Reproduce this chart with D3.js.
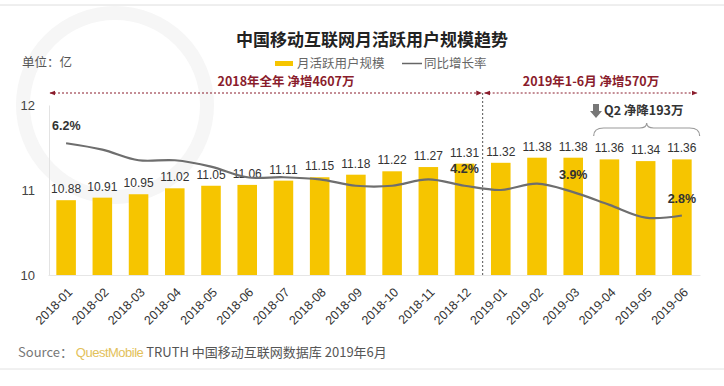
<!DOCTYPE html>
<html>
<head>
<meta charset="utf-8">
<script src="https://cdn.jsdelivr.net/npm/d3@7"></script>
<style>
  body { margin: 0; background: #fff; }
  svg { font-family: "Liberation Sans", Arial, "Noto Sans CJK SC", sans-serif; }
</style>
</head>
<body>
<div id="chart"></div>
<script>
// data
var months = ['2018-01','2018-02','2018-03','2018-04','2018-05','2018-06','2018-07','2018-08','2018-09',
  '2018-10','2018-11','2018-12','2019-01','2019-02','2019-03','2019-04','2019-05','2019-06'];
var mau = [10.88,10.91,10.95,11.02,11.05,11.06,11.11,11.15,11.18,11.22,11.27,11.31,11.32,11.38,11.38,11.36,11.34,11.36];
var growth = [6.2,5.9,5.4,5.4,5.1,4.6,4.6,4.5,4.2,4.2,4.5,4.2,4.0,4.3,3.9,3.3,2.7,2.8];
var growthLabels = [0, 11, 14, 17]; // indices of labelled growth points
var yTicks = [10, 11, 12];

var width = 724, height = 386;
var barColor = '#f6c500', lineColor = '#6e6e6e', red = '#8a1c2c';
var cjk = '"Noto Sans CJK SC", "Liberation Sans", sans-serif';

var svg = d3.select('#chart').append('svg')
  .attr('width', width)
  .attr('height', height);

// frame lines
svg.append('line').attr('x1', 0).attr('x2', width).attr('y1', 5).attr('y2', 5)
  .attr('stroke', '#dedede');
svg.append('line').attr('x1', 0).attr('x2', width).attr('y1', 369).attr('y2', 369)
  .attr('stroke', '#e2e2e2');

// faint logo ring behind the chart
svg.append('circle').attr('cx', 115).attr('cy', 105).attr('r', 92)
  .attr('fill', 'none').attr('stroke', '#f6f6f6').attr('stroke-width', 14);

var x = d3.scaleBand().domain(months).range([48, 700])
  .paddingInner(0.46).paddingOuter(0.23);
var y = d3.scaleLinear().domain([10, 12]).range([275, 105]);
var yRate = d3.scaleLinear().domain([0, 8]).range([275, 105]);
var cx = function(i) { return x(months[i]) + x.bandwidth() / 2; };

// title
svg.append('text').attr('x', 372).attr('y', 46).attr('text-anchor', 'middle')
  .style('font-family', cjk).style('font-size', '17px').style('font-weight', 600)
  .attr('fill', '#222').text('中国移动互联网月活跃用户规模趋势');

svg.append('text').attr('x', 22).attr('y', 67)
  .style('font-family', cjk).style('font-size', '12.5px').attr('fill', '#555')
  .text('单位：亿');

// legend
svg.append('rect').attr('x', 275).attr('y', 61).attr('width', 18).attr('height', 5)
  .attr('fill', barColor);
svg.append('text').attr('x', 297).attr('y', 67.5)
  .style('font-family', cjk).style('font-size', '12.5px').attr('fill', '#666')
  .text('月活跃用户规模');
svg.append('line').attr('x1', 402).attr('x2', 422).attr('y1', 63.5).attr('y2', 63.5)
  .attr('stroke', '#666').attr('stroke-width', 1.5);
svg.append('text').attr('x', 424).attr('y', 67.5)
  .style('font-family', cjk).style('font-size', '12.5px').attr('fill', '#666')
  .text('同比增长率');

// axes
var yAxis = svg.append('g').attr('transform', 'translate(49,0)')
  .call(d3.axisLeft(y).tickValues(yTicks).tickSize(0).tickPadding(14).tickFormat(d3.format('d')));
yAxis.select('.domain').attr('stroke', '#e3e3e3');
yAxis.selectAll('text').style('font-size', '13px').attr('fill', '#444');

var xAxis = svg.append('g').attr('transform', 'translate(0,275)')
  .call(d3.axisBottom(x).tickSize(0).tickPadding(0));
xAxis.select('.domain').attr('stroke', '#e6e6e6');
xAxis.selectAll('text')
  .style('font-size', '12.5px').attr('fill', '#333')
  .attr('text-anchor', 'end')
  .attr('dy', 0)
  .attr('transform', 'translate(7,18) rotate(-45)');

// bars
svg.append('g').selectAll('rect')
  .data(mau)
  .enter().append('rect')
    .attr('x', function(d, i) { return x(months[i]); })
    .attr('y', function(d) { return y(d); })
    .attr('width', x.bandwidth())
    .attr('height', function(d) { return y(10) - y(d); })
    .attr('fill', barColor);

svg.append('g').selectAll('text')
  .data(mau)
  .enter().append('text')
    .attr('x', function(d, i) { return cx(i); })
    .attr('y', function(d) { return y(d) - 7; })
    .attr('text-anchor', 'middle')
    .style('font-size', '12px').attr('fill', '#333')
    .text(function(d) { return d.toFixed(2); });

// divider between the two periods
var divX = (cx(11) + cx(12)) / 2;
svg.append('line').attr('x1', divX).attr('x2', divX).attr('y1', 93).attr('y2', 275)
  .attr('stroke', '#555').attr('stroke-dasharray', '2,2');

// growth line
var line = d3.line()
  .x(function(d, i) { return cx(i); })
  .y(function(d) { return yRate(d); })
  .curve(d3.curveCatmullRom.alpha(0.5));
svg.append('path').datum(growth)
  .attr('d', line)
  .attr('fill', 'none').attr('stroke', lineColor).attr('stroke-width', 2.2);

svg.append('g').selectAll('text')
  .data(growthLabels)
  .enter().append('text')
    .attr('x', function(i) { return i === 0 ? 52 : cx(i); })
    .attr('y', function(i) { return yRate(growth[i]) - 13; })
    .attr('text-anchor', function(i) { return i === 0 ? 'start' : 'middle'; })
    .style('font-size', '12.5px').style('font-weight', 'bold').attr('fill', '#333')
    .text(function(i) { return growth[i].toFixed(1) + '%'; });

// period arrows
var defs = svg.append('defs');
defs.append('marker').attr('id', 'arr').attr('viewBox', '0 0 10 10')
  .attr('refX', 9).attr('refY', 5).attr('markerWidth', 6).attr('markerHeight', 6)
  .attr('orient', 'auto-start-reverse')
  .append('path').attr('d', 'M0,1L10,5L0,9Z').attr('fill', red);

function periodArrow(x1, x2) {
  svg.append('line').attr('x1', x1).attr('x2', x2).attr('y1', 93).attr('y2', 93)
    .attr('stroke', red).attr('stroke-width', 1).attr('stroke-dasharray', '2,2')
    .attr('marker-start', 'url(#arr)').attr('marker-end', 'url(#arr)');
}
periodArrow(50, divX - 1);
periodArrow(divX + 2, 697);

svg.append('text').attr('x', 286).attr('y', 85.5).attr('text-anchor', 'middle')
  .style('font-family', cjk).style('font-size', '12.5px').style('font-weight', 'bold')
  .attr('fill', red).text('2018年全年 净增4607万');
svg.append('text').attr('x', 591).attr('y', 85.5).attr('text-anchor', 'middle')
  .style('font-family', cjk).style('font-size', '12.5px').style('font-weight', 'bold')
  .attr('fill', red).text('2019年1-6月 净增570万');

// Q2 note
var bx0 = x(months[15]) - 6, bx1 = x(months[17]) + x.bandwidth() + 8, bm = (bx0 + bx1) / 2;
svg.append('path')
  .attr('d', 'M' + [bx0, 136] + 'Q' + [bx0, 128] + ' ' + [bx0 + 10, 128] +
    'L' + [bm - 7, 128] + 'Q' + [bm, 128] + ' ' + [bm, 123] +
    'Q' + [bm, 128] + ' ' + [bm + 7, 128] +
    'L' + [bx1 - 10, 128] + 'Q' + [bx1, 128] + ' ' + [bx1, 136])
  .attr('fill', 'none').attr('stroke', '#999').attr('stroke-width', 1.2);
svg.append('path')
  .attr('d', 'M593,104H599V111H602L596,118L590,111H593Z')
  .attr('fill', '#777');
svg.append('text').attr('x', 604).attr('y', 115)
  .style('font-family', cjk).style('font-size', '12.5px').style('font-weight', 'bold')
  .attr('fill', '#333').text('Q2 净降193万');

// source
var src = svg.append('text').attr('x', 18).attr('y', 357)
  .style('font-family', cjk).style('font-size', '13px');
src.append('tspan').attr('fill', '#777').text('Source： ');
src.append('tspan').attr('fill', '#e3c15a').style('font-family', '"Liberation Sans", sans-serif')
  .style('letter-spacing', '-0.5px').text('QuestMobile');
src.append('tspan').attr('fill', '#555').text(' TRUTH 中国移动互联网数据库 2019年6月');
</script>
</body>
</html>
